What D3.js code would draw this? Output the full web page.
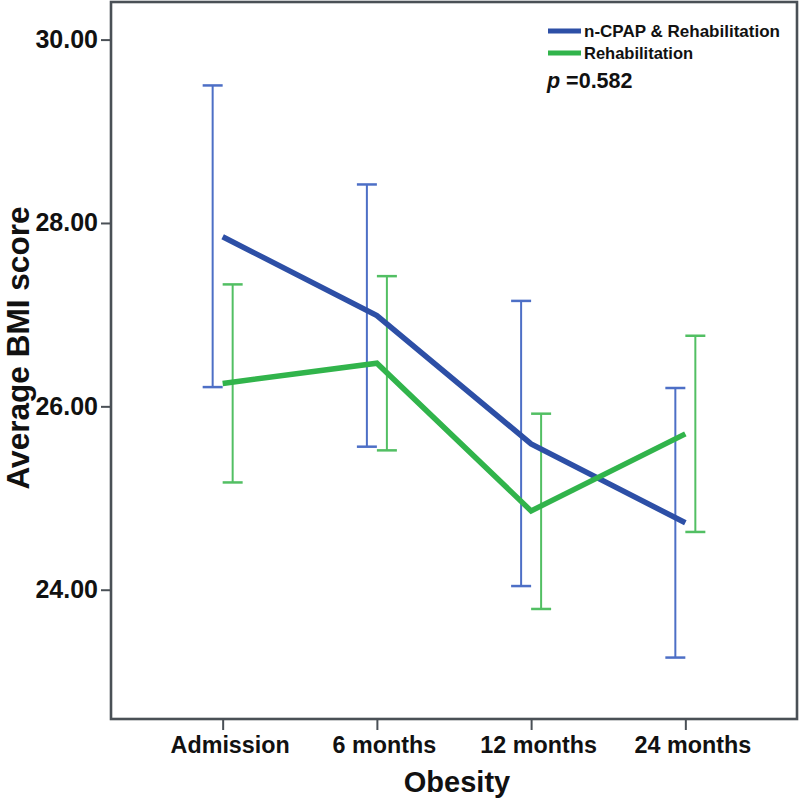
<!DOCTYPE html>
<html>
<head>
<meta charset="utf-8">
<script src="https://cdn.jsdelivr.net/npm/d3@7"></script>
<style>
  html, body { margin: 0; padding: 0; background: #ffffff; }
  svg { display: block; font-family: "Liberation Sans", Arial, sans-serif; }
</style>
</head>
<body>
<svg id="chart" width="800" height="798"></svg>
<script>
// ---- data ----
const categories = ["Admission", "6 months", "12 months", "24 months"];
const seriesNames = ["n-CPAP & Rehabilitation", "Rehabilitation"];
const cpapMean  = [27.85, 26.99, 25.59, 24.73];
const cpapLower = [26.21, 25.56, 24.04, 23.26];
const cpapUpper = [29.50, 28.42, 27.15, 26.20];
const rehabMean  = [26.25, 26.47, 24.86, 25.70];
const rehabLower = [25.17, 25.52, 23.79, 24.63];
const rehabUpper = [27.33, 27.42, 25.92, 26.77];
const yTicks = [24, 26, 28, 30];
const pText = "=0.582";
const xTitle = "Obesity";
const yTitle = "Average BMI score";

// ---- layout ----
const svg = d3.select("#chart");
const mLeft = 111, mRight = 797, mTop = 2, mBottom = 719;

const x = d3.scalePoint().domain(categories).range([mLeft, mRight]).padding(0.724);
const y = d3.scaleLinear().domain([22.59, 30.41]).range([mBottom, mTop]);

const series = [
  { name: seriesNames[0], mean: cpapMean, lo: cpapLower, hi: cpapUpper,
    line: "#2d4fa6", bar: "#4d6fc6", dodge: -10 },
  { name: seriesNames[1], mean: rehabMean, lo: rehabLower, hi: rehabUpper,
    line: "#31b44b", bar: "#52bf63", dodge: 10 }
];

// frame
svg.append("rect")
  .attr("x", mLeft).attr("y", mTop)
  .attr("width", mRight - mLeft).attr("height", mBottom - mTop)
  .attr("fill", "#ffffff").attr("stroke", "#4a5056").attr("stroke-width", 2.6);

// axes
const yAxis = d3.axisLeft(y).tickValues(yTicks).tickFormat(d3.format(".2f"))
  .tickSize(10).tickPadding(3);
const gy = svg.append("g").attr("transform", `translate(${mLeft},0)`).call(yAxis);
gy.select(".domain").remove();
gy.selectAll(".tick line").attr("stroke", "#4a5056").attr("stroke-width", 2);
gy.selectAll(".tick text").attr("font-size", 25).attr("font-weight", "bold")
  .attr("fill", "#111").attr("font-family", "'Liberation Sans', Arial, sans-serif");

const xAxis = d3.axisBottom(x).tickSize(11).tickPadding(6);
const gx = svg.append("g").attr("transform", `translate(0,${mBottom})`).call(xAxis);
gx.select(".domain").remove();
gx.selectAll(".tick line").attr("stroke", "#4a5056").attr("stroke-width", 2);
gx.selectAll(".tick text").attr("font-size", 23.3).attr("font-weight", "bold")
  .attr("dx", 7)
  .attr("fill", "#111").attr("font-family", "'Liberation Sans', Arial, sans-serif");

// error bars
series.forEach(s => {
  const g = svg.append("g");
  categories.forEach((c, i) => {
    const cx = x(c) + s.dodge;
    g.append("line").attr("x1", cx).attr("x2", cx)
      .attr("y1", y(s.lo[i])).attr("y2", y(s.hi[i]))
      .attr("stroke", s.bar).attr("stroke-width", 2);
    [s.lo[i], s.hi[i]].forEach(v => {
      g.append("line").attr("x1", cx - 10).attr("x2", cx + 10)
        .attr("y1", y(v)).attr("y2", y(v))
        .attr("stroke", s.bar).attr("stroke-width", 2.5);
    });
  });
});

// mean lines
const line = d3.line().x((d, i) => x(categories[i])).y(d => y(d));
series.forEach(s => {
  svg.append("path").datum(s.mean).attr("d", line)
    .attr("fill", "none").attr("stroke", s.line)
    .attr("stroke-width", 5.5).attr("stroke-linejoin", "miter");
});

// legend
const leg = svg.append("g");
series.forEach((s, i) => {
  const ly = 31 + i * 22;
  leg.append("line").attr("x1", 548).attr("x2", 581).attr("y1", ly).attr("y2", ly)
    .attr("stroke", s.line).attr("stroke-width", 5);
  const t = leg.append("text").attr("x", 584).attr("y", ly + 6)
    .attr("font-size", 16.5).attr("font-weight", "bold").attr("fill", "#111")
    .text(s.name);
  if (i === 0) t.attr("textLength", 196).attr("lengthAdjust", "spacingAndGlyphs");
});
const pt = leg.append("text").attr("x", 547).attr("y", 88)
  .attr("font-size", 21.5).attr("font-weight", "bold").attr("fill", "#111");
pt.append("tspan").attr("font-style", "italic").text("p");
pt.append("tspan").text(" " + pText);

// titles
svg.append("text").attr("x", 457).attr("y", 792)
  .attr("text-anchor", "middle").attr("font-size", 29).attr("font-weight", "bold")
  .attr("fill", "#111").text(xTitle);
svg.append("text")
  .attr("transform", `translate(29,348) rotate(-90)`)
  .attr("text-anchor", "middle").attr("font-size", 32).attr("font-weight", "bold")
  .attr("textLength", 283).attr("lengthAdjust", "spacingAndGlyphs")
  .attr("fill", "#111").text(yTitle);
</script>
</body>
</html>
